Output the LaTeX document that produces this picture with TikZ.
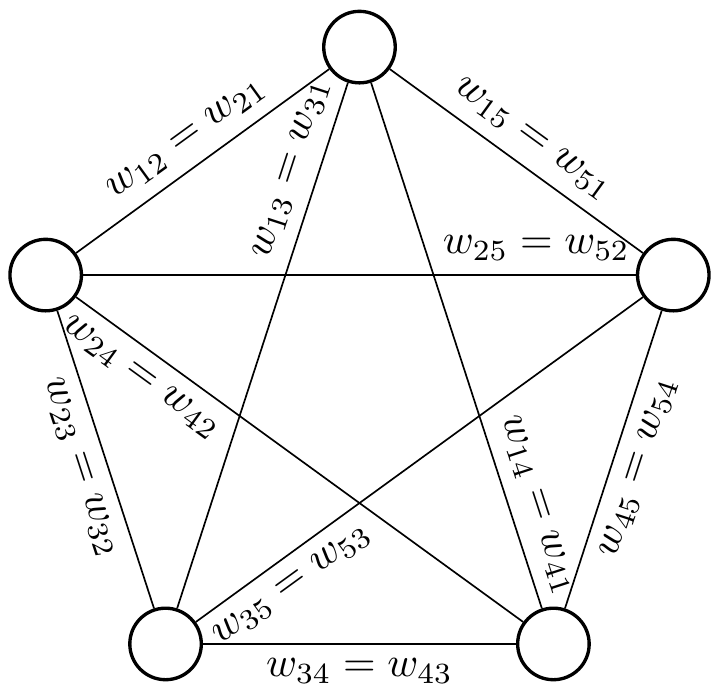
\documentclass[tikz,border=0pt]{standalone}
\usepackage{amssymb}
\usepackage{amsfonts}
\usepackage{amsmath}
\usepackage{tikz}

\begin{document}
\begin{tikzpicture}[scale=1, vertex/.style={circle, draw, thick, minimum size=6mm, inner sep=0pt}]
           \useasboundingbox (-3.016,-2.693) rectangle (3.016,3.163);
           \node [vertex] (v1) at (90:2.768) {};
           \node [vertex] (v2) at (162:2.768) {};
           \node [vertex] (v3) at (234:2.768) {};
           \node [vertex] (v4) at (306:2.768) {};
           \node [vertex] (v5) at (18:2.768) {};
           \draw (v2) -- node [above, sloped] {$w_{12} = w_{21}$} (v1);
           \draw (v1) -- node [above, sloped] {$w_{15} = w_{51}$} (v5);
           \draw (v1) -- node [above, sloped, pos=0.18] {$w_{13} = w_{31}$} (v3);
           \draw (v1) -- node [above, sloped, pos=0.82] {$w_{14} = w_{41}$} (v4);
           \draw (v2) -- node [above, pos=0.82] {$w_{25} = w_{52}$} (v5);
           \draw (v2) -- node [below, sloped, pos=0.18] {$w_{24} = w_{42}$} (v4);
           \draw (v2) -- node [below, sloped] {$w_{23} = w_{32}$} (v3);
           \draw (v3) -- node [below] {$w_{34} = w_{43}$} (v4);
           \draw (v3) -- node [below, sloped, pos=0.18] {$w_{35} = w_{53}$} (v5);
           \draw (v4) -- node [below, sloped] {$w_{45} = w_{54}$} (v5);
      \end{tikzpicture}
\end{document}
